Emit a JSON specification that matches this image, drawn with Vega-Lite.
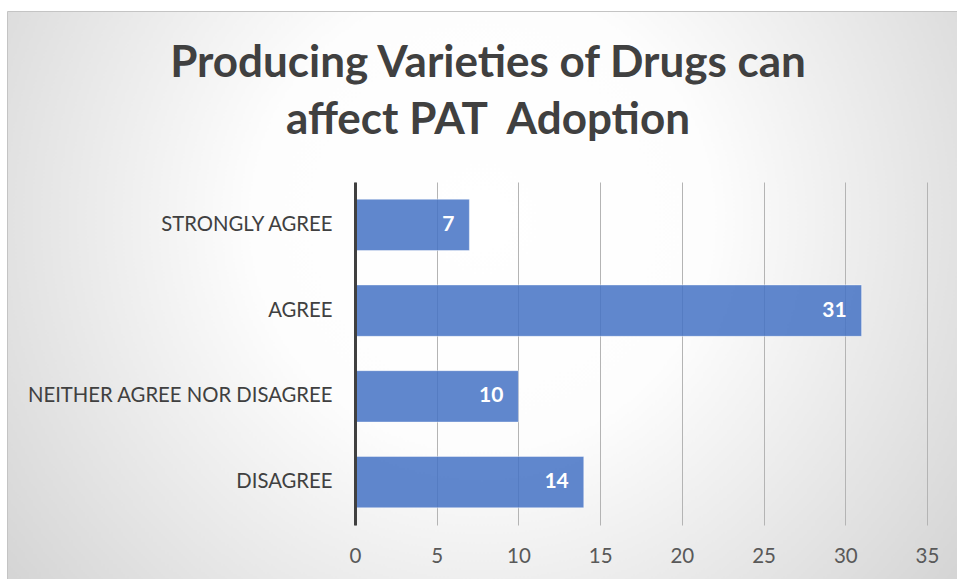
{
  "$schema": "https://vega.github.io/schema/vega-lite/v6.json",
  "width": 950,
  "height": 568,
  "autosize": "none",
  "padding": {"left": 7, "top": 11, "right": 0, "bottom": 0},
  "background": "#ffffff",
  "title": {
    "text": ["Producing Varieties of Drugs can", "affect PAT\u00a0 Adoption"],
    "anchor": "middle",
    "dx": 6,
    "offset": -132,
    "font": "Lato",
    "fontSize": 44,
    "fontWeight": "bold",
    "color": "#404040",
    "lineHeight": 57
  },
  "data": {
    "values": [
      {"response": "STRONGLY AGREE", "count": 7},
      {"response": "AGREE", "count": 31},
      {"response": "NEITHER AGREE NOR DISAGREE", "count": 10},
      {"response": "DISAGREE", "count": 14}
    ]
  },
  "encoding": {
    "y": {
      "field": "response",
      "type": "nominal",
      "sort": ["STRONGLY AGREE", "AGREE", "NEITHER AGREE NOR DISAGREE", "DISAGREE"],
      "scale": {"range": [171, 514], "paddingInner": 0.4, "paddingOuter": 0.2},
      "axis": {
        "title": null,
        "orient": "left",
        "offset": -348,
        "ticks": false,
        "tickSize": 0,
        "labelPadding": 23,
        "labelLimit": 0,
        "labelFont": "Lato",
        "labelFontSize": 20.3,
        "labelColor": "#404040",
        "domainColor": "#404040",
        "domainWidth": 3,
        "grid": false,
        "zindex": 1
      }
    }
  },
  "layer": [
    {
      "mark": {"type": "bar", "color": "#4472C4", "fillOpacity": 0.85, "stroke": "#ffffff", "strokeOpacity": 0.45, "strokeWidth": 1},
      "encoding": {
        "x": {
          "field": "count",
          "type": "quantitative",
          "scale": {"domain": [0, 35], "range": [348, 920], "nice": false},
          "axis": {
            "orient": "top",
            "title": null,
            "values": [0, 5, 10, 15, 20, 25, 30, 35],
            "grid": true,
            "gridColor": "#b4b4b4",
            "gridWidth": 1,
            "labels": false,
            "ticks": false,
            "domain": false
          }
        }
      }
    },
    {
      "mark": {"type": "text", "align": "right", "baseline": "middle", "dx": -15, "font": "Lato", "fontSize": 21, "fontWeight": "bold", "color": "#ffffff"},
      "encoding": {
        "x": {
          "field": "count",
          "type": "quantitative",
          "scale": {"domain": [0, 35], "range": [348, 920], "nice": false},
          "axis": {
            "orient": "bottom",
            "offset": -54,
            "title": null,
            "values": [0, 5, 10, 15, 20, 25, 30, 35],
            "grid": false,
            "ticks": false,
            "tickSize": 0,
            "domain": false,
            "labelFlush": false,
            "labelPadding": 21,
            "labelFont": "Lato",
            "labelFontSize": 20.5,
            "labelColor": "#595959"
          }
        },
        "text": {"field": "count", "type": "quantitative"}
      }
    }
  ],
  "resolve": {"axis": {"x": "independent"}},
  "config": {
    "view": {
      "stroke": "#c4c4c4",
      "fill": {
        "gradient": "radial",
        "x1": 0.5, "y1": 0.42, "r1": 0,
        "x2": 0.5, "y2": 0.42, "r2": 0.8,
        "stops": [
          {"offset": 0, "color": "#ffffff"},
          {"offset": 0.3, "color": "#fdfdfd"},
          {"offset": 1, "color": "#c2c2c2"}
        ]
      }
    }
  }
}
